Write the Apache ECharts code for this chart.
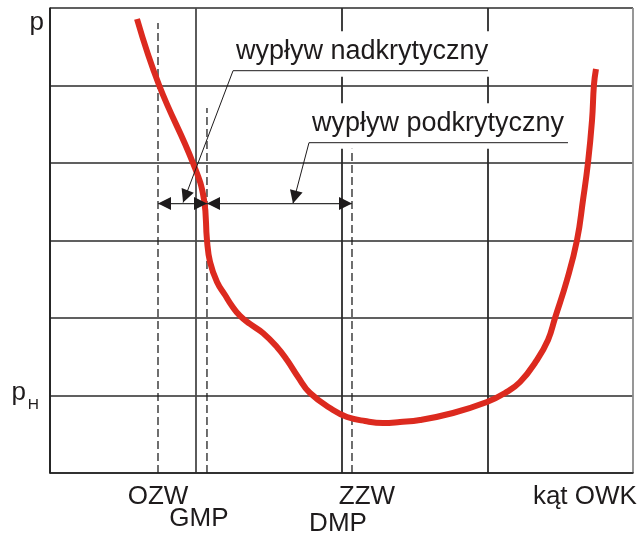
<!DOCTYPE html>
<html>
<head>
<meta charset="utf-8">
<script src="https://cdn.jsdelivr.net/npm/echarts@6/dist/echarts.min.js"></script>
<style>
  html, body { margin: 0; padding: 0; background: #fff; }
  #chart { width: 643px; height: 536px; }
</style>
</head>
<body>
<div id="chart"></div>
<script>
// Pressure p against crank angle (kąt OWK), axis units are grid divisions
const curveX = [0.597, 0.748, 0.981, 1.057, 1.077, 1.098, 1.146, 1.201, 1.249, 1.304, 1.372, 1.461,
  1.557, 1.626, 1.702, 1.784, 1.942, 2.038, 2.161, 2.285, 2.401, 2.539, 2.765, 2.998, 3.122, 3.225,
  3.341, 3.417, 3.465, 3.547, 3.616, 3.657, 3.691, 3.719, 3.732, 3.746];
const curveY = [5.858, 5.006, 4.000, 3.523, 3.006, 2.723, 2.465, 2.297, 2.155, 2.026, 1.923, 1.806,
  1.626, 1.458, 1.239, 1.032, 0.813, 0.723, 0.671, 0.645, 0.658, 0.684, 0.774, 0.916, 1.032, 1.174,
  1.458, 1.716, 2.000, 2.490, 3.006, 3.523, 4.000, 4.555, 5.006, 5.213];

// Names under the angle axis and where they sit
const angleNames = ['OZW', 'GMP', 'ZZW', 'DMP', 'kąt OWK'];
const angleNameAt = [0.741, 1.022, 2.175, 1.976, 3.670];
const angleNameRow = [0, 1, 0, 2, 0];

// Pressure axis names
const pressureNames = ['p', 'p'];
const pressureSubs = ['', 'H'];
const pressureAt = [6, 1];

// Dashed valve-timing lines: angle and upper end
const dashedAt = [0.741, 1.077, 2.072];
const dashedTop = [5.806, 4.710, 4.194];

// Outflow spans measured at one pressure level
const spanLevel = 3.477;
const spanFrom = [0.741, 1.077];
const spanTo = [1.077, 2.072];

// Callouts naming the spans
const calloutTexts = ['wypływ nadkrytyczny', 'wypływ podkrytyczny'];
const calloutShelfFrom = [1.256, 1.777];
const calloutShelfTo = [3.005, 3.554];
const calloutShelfLevel = [5.191, 4.262];
const calloutTipX = [0.913, 1.667];
const calloutTipY = [3.490, 3.477];

const FONT = '"Liberation Sans", Arial, Helvetica, sans-serif';
const INK = '#1e1b1c';
const AXIS_FS = 26;
const CALLOUT_FS = 27;
const rowBaseline = [33, 55, 60];       // px below the angle axis
const pressureBaseline = [24, 6];       // px below the tick level

function textEl(x, baseline, str, size, align) {
  return {
    type: 'text',
    style: {
      x: x, y: baseline - 0.35 * size, text: str, fill: INK,
      font: size + 'px ' + FONT, align: align, verticalAlign: 'middle'
    }
  };
}

function arrowHead(tip, from, len, half) {
  const dx = tip[0] - from[0], dy = tip[1] - from[1];
  const d = Math.hypot(dx, dy), ux = dx / d, uy = dy / d;
  const bx = tip[0] - ux * len, by = tip[1] - uy * len;
  return {
    type: 'polygon',
    shape: { points: [tip, [bx - uy * half, by + ux * half], [bx + uy * half, by - ux * half]] },
    style: { fill: INK }
  };
}

const chart = echarts.init(document.getElementById('chart'), null, { renderer: 'canvas' });

chart.setOption({
  animation: false,
  backgroundColor: '#fff',
  grid: { left: 50, right: 10, top: 8, bottom: 63 },
  xAxis: {
    type: 'value', min: 0, max: 4, interval: 1,
    axisLabel: { show: false }, axisTick: { show: false },
    axisLine: { show: true, lineStyle: { color: '#222', width: 1.6 } },
    splitLine: { show: true, lineStyle: { color: ['#222', '#4a4a4a', '#2b2b2b', '#2b2b2b', '#8c8c8c'], width: 1.8 } }
  },
  yAxis: {
    type: 'value', min: 0, max: 6, interval: 1,
    axisLabel: { show: false }, axisTick: { show: false },
    axisLine: { show: true, lineStyle: { color: '#222', width: 1.6 } },
    splitLine: { show: true, lineStyle: { color: '#2b2b2b', width: 1.6 } }
  },
  series: [
    {
      // dashed timing lines
      type: 'custom', z: 2,
      data: dashedAt.map((x, i) => [x, dashedTop[i]]),
      renderItem: function (params, api) {
        const a = api.coord([api.value(0), 0]);
        const b = api.coord([api.value(0), api.value(1)]);
        return {
          type: 'line',
          shape: { x1: a[0], y1: a[1], x2: b[0], y2: b[1] },
          style: { stroke: '#222', lineWidth: 1.3, lineDash: [8, 4] }
        };
      }
    },
    {
      type: 'line', z: 3,
      data: curveX.map((x, i) => [x, curveY[i]]),
      showSymbol: false, smooth: 0.45,
      lineStyle: { color: '#dc2a1f', width: 6, cap: 'butt', join: 'round' }
    },
    {
      // callout labels with leader arrows
      type: 'custom', z: 4,
      data: calloutShelfFrom.map((x, i) => [x, calloutShelfLevel[i]]),
      renderItem: function (params, api) {
        const i = params.dataIndex;
        const s = api.coord([calloutShelfFrom[i], calloutShelfLevel[i]]);
        const e = api.coord([calloutShelfTo[i], calloutShelfLevel[i]]);
        const t = api.coord([calloutTipX[i], calloutTipY[i]]);
        return {
          type: 'group',
          children: [
            { type: 'rect', shape: { x: s[0] - 3, y: s[1] - 39.5, width: e[0] - s[0] + 9, height: 45.5 }, style: { fill: '#fff' } },
            textEl(s[0] + 3, s[1] - 10, calloutTexts[i], CALLOUT_FS, 'left'),
            { type: 'line', shape: { x1: s[0], y1: s[1], x2: e[0], y2: e[1] }, style: { stroke: INK, lineWidth: 1 } },
            { type: 'line', shape: { x1: s[0], y1: s[1], x2: t[0], y2: t[1] }, style: { stroke: INK, lineWidth: 1 } },
            arrowHead(t, s, 13, 6.5)
          ]
        };
      }
    },
    {
      // outflow span dimension lines
      type: 'custom', z: 5,
      data: spanFrom.map((x, i) => [x, spanLevel]),
      renderItem: function (params, api) {
        const i = params.dataIndex;
        const a = api.coord([spanFrom[i], spanLevel]);
        const b = api.coord([spanTo[i], spanLevel]);
        return {
          type: 'group',
          children: [
            { type: 'line', shape: { x1: a[0], y1: a[1], x2: b[0], y2: b[1] }, style: { stroke: '#333', lineWidth: 1.2 } },
            arrowHead(a, b, 13, 6.5),
            arrowHead(b, a, 13, 6.5)
          ]
        };
      }
    },
    {
      // angle axis names
      type: 'custom', z: 5,
      data: angleNameAt.map(x => [x, 0]),
      renderItem: function (params, api) {
        const i = params.dataIndex;
        const p = api.coord([angleNameAt[i], 0]);
        return textEl(p[0], p[1] + rowBaseline[angleNameRow[i]], angleNames[i], AXIS_FS, 'center');
      }
    },
    {
      // pressure axis names
      type: 'custom', z: 5,
      data: pressureAt.map(y => [0, y]),
      renderItem: function (params, api) {
        const i = params.dataIndex;
        const p = api.coord([0, pressureAt[i]]);
        const base = p[1] + pressureBaseline[i];
        if (!pressureSubs[i]) {
          return textEl(p[0] - 6, base, pressureNames[i], AXIS_FS, 'right');
        }
        return {
          type: 'group',
          children: [
            textEl(p[0] - 24, base, pressureNames[i], AXIS_FS, 'right'),
            textEl(p[0] - 11, base + 9, pressureSubs[i], 15.5, 'right')
          ]
        };
      }
    }
  ]
});
</script>
</body>
</html>
